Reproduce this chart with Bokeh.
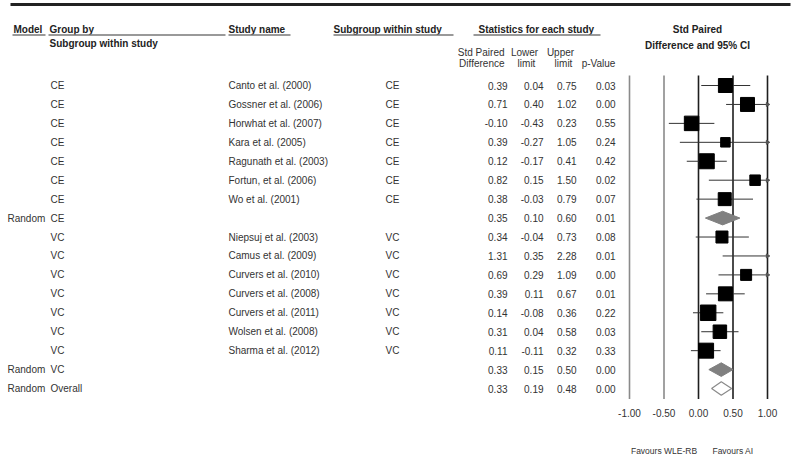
import math
from bokeh.plotting import figure
from bokeh.models import Range1d
from bokeh.core.properties import value
from bokeh.embed import file_html
from bokeh.resources import INLINE

# ---------------- data ----------------
models = [""] * 7 + ["Random"] + [""] * 7 + ["Random", "Random"]
groups = ["CE"] * 8 + ["VC"] * 8 + ["Overall"]
studies = ["Canto et al. (2000)", "Gossner et al. (2006)", "Horwhat et al. (2007)",
           "Kara et al. (2005)", "Ragunath et al. (2003)", "Fortun, et al. (2006)",
           "Wo et al. (2001)", "",
           "Niepsuj et al. (2003)", "Camus et al. (2009)", "Curvers et al. (2010)",
           "Curvers et al. (2008)", "Curvers et al. (2011)", "Wolsen et al.  (2008)",
           "Sharma et al. (2012)", "", ""]
subgroups = ["CE"] * 7 + [""] + ["VC"] * 7 + ["", ""]
std_diff = [0.39, 0.71, -0.10, 0.39, 0.12, 0.82, 0.38, 0.35,
            0.34, 1.31, 0.69, 0.39, 0.14, 0.31, 0.11, 0.33, 0.33]
lower = [0.04, 0.40, -0.43, -0.27, -0.17, 0.15, -0.03, 0.10,
         -0.04, 0.35, 0.29, 0.11, -0.08, 0.04, -0.11, 0.15, 0.19]
upper = [0.75, 1.02, 0.23, 1.05, 0.41, 1.50, 0.79, 0.60,
         0.73, 2.28, 1.09, 0.67, 0.36, 0.58, 0.32, 0.50, 0.48]
p_value = [0.03, 0.00, 0.55, 0.24, 0.42, 0.02, 0.07, 0.01,
           0.08, 0.01, 0.00, 0.01, 0.22, 0.03, 0.33, 0.00, 0.00]
row_kind = ["study"] * 7 + ["subtotal"] + ["study"] * 7 + ["subtotal", "overall"]
# relative study weights
rel_weight = [14, 14, 14.5, 9.5, 15, 10.5, 13, 0,
              12, 9, 11, 14, 15.5, 13.5, 15, 0, 0]
axis_ticks = [-1.0, -0.5, 0.0, 0.5, 1.0]
favours = ["Favours WLE-RB", "Favours AI"]
favours_at = [-0.5, 0.5]

XMIN, XMAX = -1.0, 1.0
FONT = value("Liberation Sans")
TXT = "#333333"

# ---------------- figure ----------------
W, H = 800, 460
p = figure(width=W, height=H, x_range=Range1d(0, W), y_range=Range1d(H, 0),
           x_axis_type=None, y_axis_type=None, output_backend="svg",
           toolbar_location=None, min_border=0)
p.grid.visible = False
p.outline_line_color = None
p.background_fill_color = "white"
p.border_fill_color = "white"

px_per_unit = 69.0
zero_px = 698.0
p.extra_x_ranges = {"eff": Range1d((0 - zero_px) / px_per_unit, (W - zero_px) / px_per_unit)}
row0_px, row_h = 85.0, 18.94
p.extra_y_ranges = {"rows": Range1d((H - row0_px) / row_h, (0 - row0_px) / row_h)}

n = len(studies)
rows = list(range(n))

# top rule
p.segment(x0=[10], y0=[4], x1=[790], y1=[4], line_color="#222222", line_width=3)

# headers (bold)
def bold(x, y, t, align="left"):
    p.text(x=[x], y=[y], text=[t], text_font=FONT, text_font_size="10px",
           text_font_style="bold", text_color="#222222", text_align=align,
           text_baseline="middle")

bold(13, 29, "Model")
bold(49, 29, "Group by")
bold(49, 43, "Subgroup within study")
bold(228, 29, "Study name")
bold(333, 29, "Subgroup within study")
bold(478, 29, "Statistics for each study")
bold(697, 29, "Std Paired", "center")
bold(697, 45, "Difference and 95% CI", "center")

# header underlines
ul_x0 = [12, 48, 228, 333, 473]
ul_x1 = [45, 225, 290, 453, 600]
p.segment(x0=ul_x0, y0=[34.5] * 5, x1=ul_x1, y1=[34.5] * 5, line_color="#777777", line_width=1.5)

# column sub-headers
def reg(x, y, t, align="center", size="10px", color=TXT):
    p.text(x=[x], y=[y], text=[t], text_font=FONT, text_font_size=size,
           text_color=color, text_align=align, text_baseline="middle")

reg(504, 52, "Std Paired", "right")
reg(504, 63, "Difference", "right")
reg(524, 52, "Lower")
reg(526, 63, "limit")
reg(560, 52, "Upper")
reg(563, 63, "limit")
reg(598, 63, "p-Value")

# table body
tab = dict(text_font=FONT, text_font_size="10px", text_color=TXT,
           text_baseline="middle", y_range_name="rows")
p.text(x=[7] * n, y=rows, text=models, text_align="left", **tab)
p.text(x=[50] * n, y=rows, text=groups, text_align="left", **tab)
p.text(x=[228] * n, y=rows, text=studies, text_align="left", **tab)
p.text(x=[385] * n, y=rows, text=subgroups, text_align="left", **tab)
p.text(x=[507] * n, y=rows, text=[f"{v:.2f}" for v in std_diff], text_align="right", **tab)
p.text(x=[543] * n, y=rows, text=[f"{v:.2f}" for v in lower], text_align="right", **tab)
p.text(x=[576] * n, y=rows, text=[f"{v:.2f}" for v in upper], text_align="right", **tab)
p.text(x=[615] * n, y=rows, text=[f"{v:.2f}" for v in p_value], text_align="right", **tab)

# ---------------- forest panel ----------------
fr = dict(x_range_name="eff", y_range_name="rows")
line_cols = ["#8a8a8a" if t < 0 else "#1e1e1e" for t in axis_ticks]
p.segment(x0=axis_ticks, y0=[-0.53] * 5, x1=axis_ticks, y1=[16.55] * 5,
          line_color=line_cols, line_width=1.6, **fr)

study_idx = [i for i in rows if row_kind[i] == "study"]
ci_x0 = [max(lower[i], XMIN) for i in study_idx]
ci_x1 = [min(upper[i], XMAX) for i in study_idx]
ci_y = [i for i in study_idx]
p.segment(x0=ci_x0, y0=ci_y, x1=ci_x1, y1=ci_y, line_color="#333333", line_width=1, **fr)

arrow_idx = [i for i in study_idx if upper[i] > XMAX]
p.scatter(x=[XMAX] * len(arrow_idx), y=arrow_idx, marker="triangle", size=4,
          angle=-math.pi / 2, color="#555555", **fr)

sq_idx = [i for i in study_idx if XMIN <= std_diff[i] <= XMAX]
p.scatter(x=[std_diff[i] for i in sq_idx], y=sq_idx, marker="square",
          size=[rel_weight[i] for i in sq_idx], color="black", **fr)

dh = 0.36
sub_idx = [i for i in rows if row_kind[i] == "subtotal"]
p.patches(xs=[[lower[i], std_diff[i], upper[i], std_diff[i]] for i in sub_idx],
          ys=[[i, i - dh, i, i + dh] for i in sub_idx],
          fill_color="#808080", line_color="#808080", **fr)
ov_idx = [i for i in rows if row_kind[i] == "overall"]
p.patches(xs=[[lower[i], std_diff[i], upper[i], std_diff[i]] for i in ov_idx],
          ys=[[i, i - dh, i, i + dh] for i in ov_idx],
          fill_color="white", line_color="#8a8a8a", line_width=1.2, **fr)

# tick labels and favours labels
p.text(x=axis_ticks, y=[17.3] * 5, text=[f"{t:.2f}" for t in axis_ticks],
       text_font=FONT, text_font_size="10px", text_color=TXT, text_align="center",
       text_baseline="middle", **fr)
p.text(x=favours_at, y=[19.3] * 2, text=favours, text_font=FONT, text_font_size="8.5px",
       text_color=TXT, text_align="center", text_baseline="middle", **fr)

open("out.html", "w").write(file_html(p, INLINE))
